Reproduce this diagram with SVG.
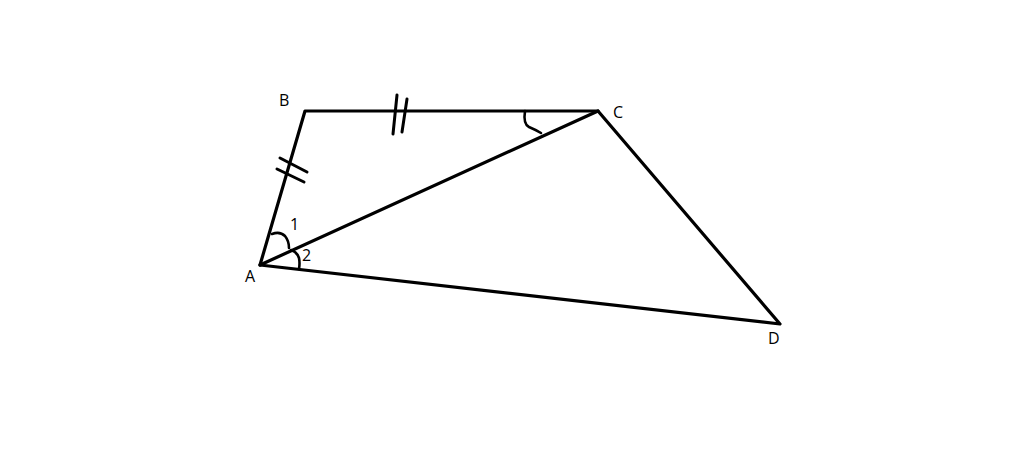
<svg xmlns="http://www.w3.org/2000/svg" width="1024" height="467" viewBox="0 0 1024 467">
<style>
.l{stroke:#000;stroke-width:3.2;fill:none;stroke-linecap:round;stroke-linejoin:round}
.t{stroke:#000;stroke-width:3;fill:none;stroke-linecap:round}
.a{stroke:#000;stroke-width:2.6;fill:none;stroke-linecap:round}
.lab{font-family:"Open Sans","Liberation Sans",sans-serif;font-size:16px;fill:#000}
</style>
<rect width="1024" height="467" fill="#fff"/>
<g id="edges">
<polyline class="l" points="260,265 305,111 598,111 780,324 260,265"/>
<line class="l" x1="260" y1="265" x2="598" y2="111"/>
</g>
<g id="marks">
<line class="t" x1="280" y1="158" x2="307" y2="172"/>
<line class="t" x1="277" y1="169" x2="304" y2="182"/>
<line class="t" x1="397" y1="95" x2="393" y2="134"/>
<line class="t" x1="407" y1="99" x2="402" y2="132"/>
<path class="a" d="M525,111 Q523,124 529,127 Q536,130 541,133"/>
<path class="a" d="M272,234 Q280,231 285,236 Q289,241 289,248"/>
<path class="a" d="M291,250 Q297,252 299,258 Q300,263 299,269"/>
</g>
<g id="labels">
<text class="lab" x="279" y="106">B</text>
<text class="lab" x="613" y="118">C</text>
<text class="lab" x="245" y="282">A</text>
<text class="lab" x="768" y="344">D</text>
<text class="lab" x="290" y="230">1</text>
<text class="lab" x="302" y="261">2</text>
</g>
</svg>
